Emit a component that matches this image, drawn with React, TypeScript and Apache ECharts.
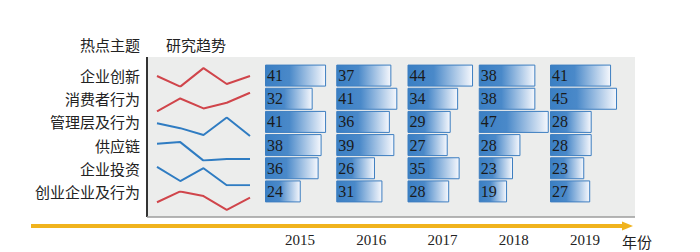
import React, { useEffect, useRef } from "react";
import * as echarts from "echarts";

const topics = ["企业创新", "消费者行为", "管理层及行为", "供应链", "企业投资", "创业企业及行为"];
const years = ["2015", "2016", "2017", "2018", "2019"];
const v2015 = [41, 32, 41, 38, 36, 24];
const v2016 = [37, 41, 36, 39, 26, 31];
const v2017 = [44, 34, 29, 27, 35, 28];
const v2018 = [38, 38, 47, 28, 23, 19];
const v2019 = [41, 45, 28, 28, 23, 27];
const yearValues = [v2015, v2016, v2017, v2018, v2019];
const headerLeft = "热点主题";
const headerRight = "研究趋势";
const axisName = "年份";

const RED = "#d0454b";
const BLUE = "#2f7cc2";
const trendColor = [RED, RED, BLUE, BLUE, BLUE, RED];

export default function App() {
  const ref = useRef<HTMLDivElement>(null);
  useEffect(() => {
    if (!ref.current) return;
    document.body.style.margin = "0";
    const chart = echarts.init(ref.current, undefined, { renderer: "svg" });
    const grids: any[] = [];
    const xAxes: any[] = [];
    const yAxes: any[] = [];
    const series: any[] = [];
    const serif = "'Liberation Serif', 'Times New Roman', serif";
    const cjk = "'Noto Sans CJK SC', sans-serif";

    // bar grids
    years.forEach((yr, j) => {
      const gi = grids.length;
      grids.push({ left: 265 + 71.25 * j, width: 70, top: 64, height: 148 });
      xAxes.push({
        gridIndex: gi,
        type: "value",
        min: 0,
        max: 47,
        name: yr,
        nameLocation: "middle",
        nameGap: 29,
        nameTextStyle: { fontFamily: serif, fontSize: 15, color: "#222" },
        axisLine: { show: false },
        axisTick: { show: false },
        axisLabel: { show: false },
        splitLine: { show: false },
      });
      yAxes.push({
        gridIndex: gi,
        type: "category",
        data: topics,
        inverse: true,
        axisLine: { show: false },
        axisTick: { show: false },
        axisLabel:
          j === 0
            ? {
                show: true,
                margin: 125,
                fontFamily: cjk,
                fontSize: 15,
                color: "#222",
                padding: [6, 0, 0, 0],
              }
            : { show: false },
        splitLine: { show: false },
      });
      series.push({
        type: "bar",
        xAxisIndex: gi,
        yAxisIndex: gi,
        data: yearValues[j],
        barWidth: 22,
        itemStyle: {
          color: new echarts.graphic.LinearGradient(0, 0, 1, 0, [
            { offset: 0, color: "#3a7fc4" },
            { offset: 0.4, color: "#4a89c9" },
            { offset: 1, color: "#f6f8fd" },
          ]),
          borderColor: "#3d7ec0",
          borderWidth: 1,
        },
        label: {
          show: true,
          position: "insideLeft",
          distance: 2,
          fontFamily: serif,
          fontSize: 16,
          color: "#1a1a1a",
        },
      });
    });

    // sparkline grids
    topics.forEach((t, i) => {
      const gi = grids.length;
      const vals = yearValues.map((arr) => arr[i]);
      grids.push({ left: 157, width: 93, top: 68.1 + 24.67 * i, height: 18.5 });
      xAxes.push({ gridIndex: gi, type: "category", data: years, boundaryGap: false, show: false });
      yAxes.push({
        gridIndex: gi,
        type: "value",
        min: (v: any) => v.min,
        max: (v: any) => v.max,
        show: false,
        splitLine: { show: false },
      });
      series.push({
        type: "line",
        xAxisIndex: gi,
        yAxisIndex: gi,
        data: vals,
        symbol: "none",
        lineStyle: { color: trendColor[i], width: 2 },
      });
    });

    chart.setOption({
      animation: false,
      grid: grids,
      xAxis: xAxes,
      yAxis: yAxes,
      series,
      graphic: [
        { type: "rect", z: -10, shape: { x: 147, y: 57, width: 488, height: 160 }, style: { fill: "#ecedec" } },
        { type: "line", z: -5, shape: { x1: 147, y1: 57, x2: 147, y2: 217 }, style: { stroke: "#333", lineWidth: 2 } },
        { type: "line", z: -5, shape: { x1: 147, y1: 217, x2: 635, y2: 217 }, style: { stroke: "#9c9c9c", lineWidth: 1.5 } },
        { type: "line", shape: { x1: 31, y1: 226, x2: 624, y2: 226 }, style: { stroke: "#f0b31d", lineWidth: 4 } },
        { type: "polygon", shape: { points: [[622, 221.5], [633, 226], [622, 230.5]] }, style: { fill: "#f0b31d" } },
        { type: "text", x: 140, y: 44, style: { text: headerLeft, align: "right", verticalAlign: "middle", font: "15px 'Noto Sans CJK SC'", fill: "#222" } },
        { type: "text", x: 166, y: 44, style: { text: headerRight, align: "left", verticalAlign: "middle", font: "15px 'Noto Sans CJK SC'", fill: "#222" } },
        { type: "text", x: 622, y: 241, style: { text: axisName, align: "left", verticalAlign: "middle", font: "15px 'Noto Sans CJK SC'", fill: "#222" } },
      ],
    });
    return () => chart.dispose();
  }, []);
  return <div ref={ref} style={{ width: 700, height: 252 }} />;
}
